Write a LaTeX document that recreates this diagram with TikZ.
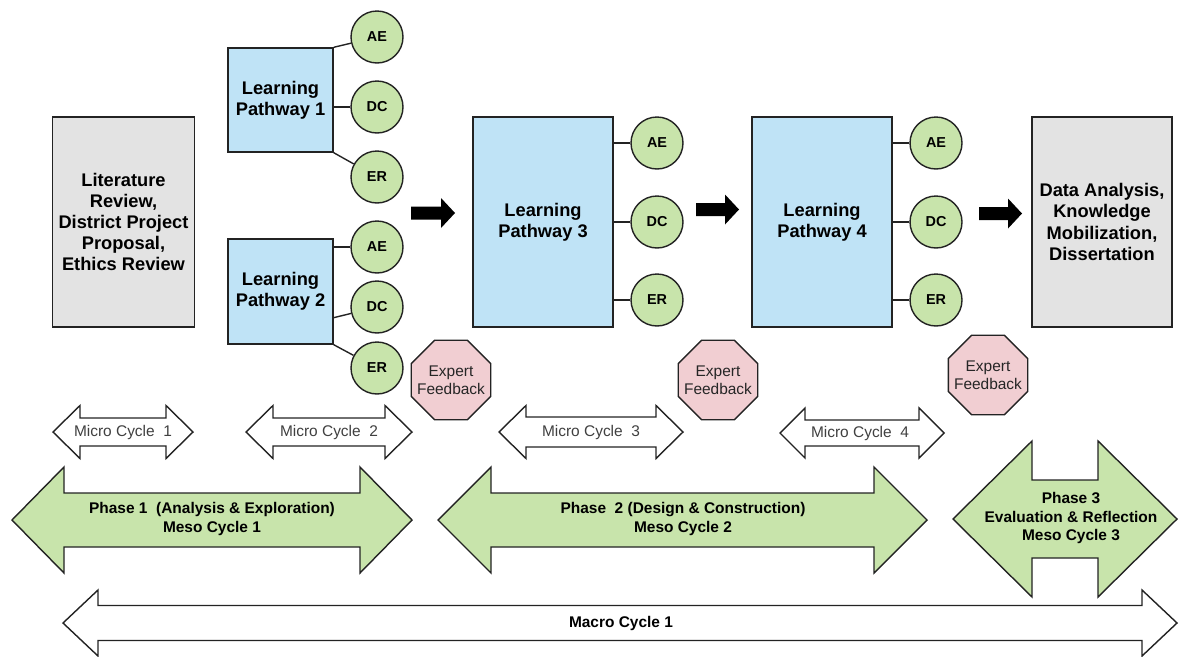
\documentclass[tikz,border=0pt]{standalone}
\usepackage{fontspec}
\setmainfont{Liberation Sans}
\usetikzlibrary{shapes.geometric}

\definecolor{pathblue}{RGB}{191,227,246}
\definecolor{stagegray}{RGB}{227,227,227}
\definecolor{skillgreen}{RGB}{200,228,171}
\definecolor{expertpink}{RGB}{241,206,210}
\definecolor{edgegray}{RGB}{35,35,35}

% double headed block arrow: style, left tip, right tip, mid y, shaft half, head half, head length
\newcommand{\cyclearrow}[7]{%
  \draw[#1] (#2,#4) -- (#2+#7,#4-#6) -- (#2+#7,#4-#5) -- (#3-#7,#4-#5) -- (#3-#7,#4-#6)
    -- (#3,#4) -- (#3-#7,#4+#6) -- (#3-#7,#4+#5) -- (#2+#7,#4+#5) -- (#2+#7,#4+#6) -- cycle;}
% black arrow between stages: tail x, tip x, mid y
\newcommand{\nextarrow}[3]{%
  \fill[black] (#1,#3-6.5) -- (#2-14,#3-6.5) -- (#2-14,#3-15) -- (#2,#3)
    -- (#2-14,#3+15) -- (#2-14,#3+6.5) -- (#1,#3+6.5) -- cycle;}

\begin{document}
\begin{tikzpicture}[x=0.02cm, y=-0.02cm,
            stage-node/.style={rectangle,draw=edgegray,line width=0.8pt,fill=stagegray,minimum width=2.8cm,minimum height=4.2cm,align=center,font=\bfseries\fontsize{10.4}{12}\selectfont},
            path-node/.style={rectangle,draw=edgegray,line width=0.8pt,fill=pathblue,align=center,font=\bfseries\fontsize{10.4}{12}\selectfont},
            skill-node/.style={circle,draw=edgegray,line width=0.8pt,fill=skillgreen,minimum size=1.04cm,inner sep=0pt,font=\bfseries\fontsize{8.2}{10}\selectfont},
            expert-node/.style={regular polygon,regular polygon sides=8,draw=edgegray,line width=0.8pt,fill=expertpink,minimum size=1.72cm,inner sep=-5pt,align=center,text=black!85,font=\fontsize{8.8}{10.2}\selectfont},
            micro-arrow/.style={draw=edgegray,line width=0.8pt,fill=white},
            phase-arrow/.style={draw=edgegray,line width=0.8pt,fill=skillgreen},
            micro-text/.style={text=black!75,font=\fontsize{8.8}{10}\selectfont},
            phase-text/.style={align=center,font=\bfseries\fontsize{8.8}{10.8}\selectfont},
            link/.style={draw=edgegray,line width=0.8pt},
        ]
            \useasboundingbox (0,0) rectangle (1179,656);

            \node[stage-node] (litrev) at (123.5,222) {Literature\\Review,\\District Project\\Proposal,\\Ethics Review};

            \node[path-node,minimum width=2.1cm,minimum height=2.08cm] (lp1) at (280.5,100) {Learning\\Pathway 1};
            \node[skill-node] (ae1) at (377,37) {AE};
            \node[skill-node] (dc1) at (377,107) {DC};
            \node[skill-node] (er1) at (377,177) {ER};

            \node[path-node,minimum width=2.1cm,minimum height=2.1cm] (lp2) at (280.5,291.5) {Learning\\Pathway 2};
            \node[skill-node] (ae2) at (377,247) {AE};
            \node[skill-node] (dc2) at (377,307) {DC};
            \node[skill-node] (er2) at (377,368) {ER};

            \node[path-node,minimum width=2.8cm,minimum height=4.2cm] (lp3) at (543,222) {Learning\\Pathway 3};
            \node[skill-node] (ae3) at (657,143) {AE};
            \node[skill-node] (dc3) at (657,222) {DC};
            \node[skill-node] (er3) at (657,300) {ER};

            \node[path-node,minimum width=2.8cm,minimum height=4.2cm] (lp4) at (822,222) {Learning\\Pathway 4};
            \node[skill-node] (ae4) at (936,143) {AE};
            \node[skill-node] (dc4) at (936,222) {DC};
            \node[skill-node] (er4) at (936,300) {ER};

            \node[stage-node] (final) at (1102,222) {Data Analysis,\\Knowledge\\Mobilization,\\Dissertation};

            \draw[link] (lp1.north east) -- (ae1);
            \draw[link] (dc1) -- (dc1 -| lp1.east);
            \draw[link] (lp1.south east) -- (er1);
            \draw[link] (ae2) -- (ae2 -| lp2.east);
            \draw[link] ([yshift=0.54cm]lp2.south east) -- (dc2);
            \draw[link] (lp2.south east) -- (er2);
            \draw[link] (ae3) -- (ae3 -| lp3.east);
            \draw[link] (dc3) -- (dc3 -| lp3.east);
            \draw[link] (er3) -- (er3 -| lp3.east);
            \draw[link] (ae4) -- (ae4 -| lp4.east);
            \draw[link] (dc4) -- (dc4 -| lp4.east);
            \draw[link] (er4) -- (er4 -| lp4.east);

            \nextarrow{411}{455}{213}
            \nextarrow{696}{739}{209.5}
            \nextarrow{979}{1022}{213.5}

            \node[expert-node] (fb1) at (451,380) {Expert\\Feedback};
            \node[expert-node] (fb2) at (718,380) {Expert\\Feedback};
            \node[expert-node] (fb3) at (988,375) {Expert\\Feedback};

            % micro cycles
            \cyclearrow{micro-arrow}{53}{193}{432}{14}{26.5}{27}
            \node[micro-text] (mc1) at (123,432) {Micro Cycle\ \ 1};
            \cyclearrow{micro-arrow}{246}{412}{432}{14}{26.5}{27}
            \node[micro-text] (mc2) at (329,432) {Micro Cycle\ \ 2};
            \cyclearrow{micro-arrow}{499}{683}{432}{15}{26.5}{27}
            \node[micro-text] (mc3) at (591,432) {Micro Cycle\ \ 3};
            \cyclearrow{micro-arrow}{780}{944}{433}{13}{25}{25}
            \node[micro-text] (mc4) at (860,433) {Micro Cycle\ \ 4};

            % meso cycles
            \cyclearrow{phase-arrow}{12}{412}{520}{27}{53}{52}
            \node[phase-text] (ph1) at (212,519) {Phase 1\ \ (Analysis \& Exploration)\\Meso Cycle 1};
            \cyclearrow{phase-arrow}{438}{927}{520}{27}{53}{53}
            \node[phase-text] (ph2) at (683,519) {Phase\ \ 2 (Design \& Construction)\\Meso Cycle 2};
            \cyclearrow{phase-arrow}{953}{1177}{519}{39}{78}{79}
            \node[phase-text] (ph3) at (1071,518) {Phase 3\\Evaluation \& Reflection\\Meso Cycle 3};

            % macro cycle
            \cyclearrow{micro-arrow}{63}{1177}{623}{17.5}{33}{35}
            \node[phase-text] (macro) at (621,623) {Macro Cycle 1};
        \end{tikzpicture}
\end{document}
